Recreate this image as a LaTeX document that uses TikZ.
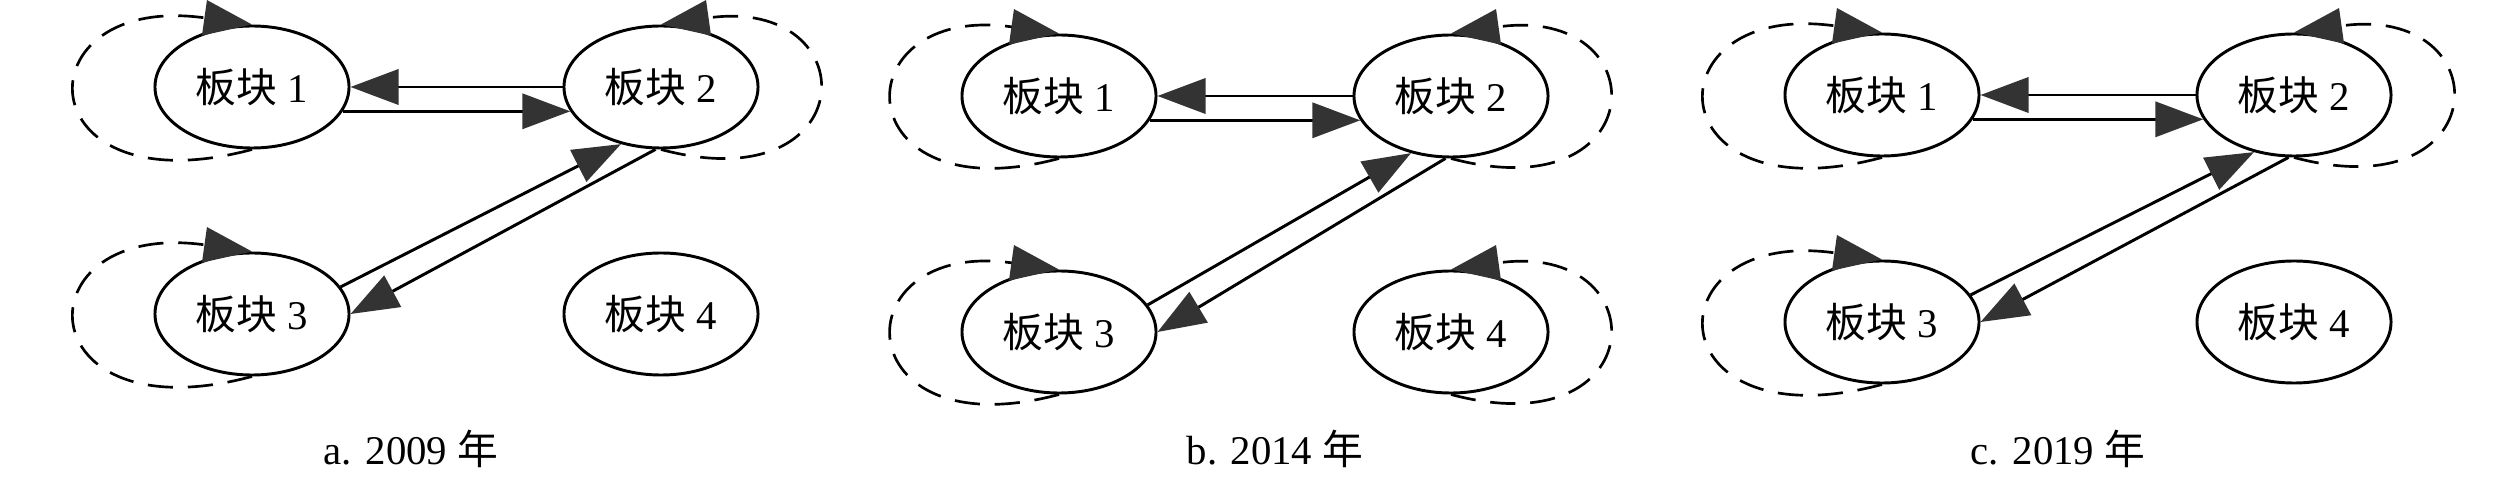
\documentclass[tikz,border=0pt]{standalone}
\usepackage{fontspec}
\setmainfont{Liberation Serif}
\newfontfamily\cjk{Noto Sans CJK SC}
\usepackage{tikz}
\usetikzlibrary{arrows.meta, shapes.geometric}
\definecolor{tipgray}{HTML}{333333}
\newcommand{\bk}[1]{{\cjk 板块} #1}

\begin{document}
\begin{tikzpicture}[x=0.025cm, y=0.025cm, font=\fontsize{29pt}{34pt}\selectfont,
	blk/.style={ellipse, draw, line width=2.1pt, minimum width=4.85cm, minimum height=3.05cm, inner sep=0pt},
	flow/.style={line width=2.1pt, -{Triangle[length=12mm, width=8.8mm, color=tipgray]}},
	selfflow/.style={flow, line width=1.9pt, dash pattern=on 6.3mm off 3.7mm},
	lloop/.style={out=195, in=172, distance=#1},
	rloop/.style={out=-15, in=8, distance=5.25cm}]
\useasboundingbox (0,0) rectangle (2520,480);
\foreach \p/\xl/\xr/\yt/\yb/\xc/\yr/\dl in {a/252/661/393/166/411/2009/5.9cm, b/1059/1451/384/148/1275/2014/5.55cm, c/1882/2294/385/158/2058/2019/5.9cm}
{
	\node[blk] (\p1) at (\xl,\yt) {\bk{1}};
	\node[blk] (\p2) at (\xr,\yt) {\bk{2}};
	\node[blk] (\p3) at (\xl,\yb) {\bk{3}};
	\node[blk] (\p4) at (\xr,\yb) {\bk{4}};
	\node[anchor = base] (cap\p) at (\xc,15) {\p. \yr\ {\cjk 年}};
	
	\draw[flow] (\p2.west) -- (\p1.east);
	\draw[flow] (\p1.345) -- (\p2.195);
	\draw[flow] (\p3.17) -- (\p2.235);
	\draw[flow] (\p2.265) -- (\p3.east);
	\draw[selfflow] (\p1.south) to[lloop=\dl] (\p1.north);
	\draw[selfflow] (\p3.south) to[lloop=\dl] (\p3.north);
	\draw[selfflow] (\p2.south) to[rloop] (\p2.north);
}
% only 2014 has a loop on 4
\draw[selfflow] (b4.south) to[rloop] (b4.north);
\end{tikzpicture}
\end{document}
